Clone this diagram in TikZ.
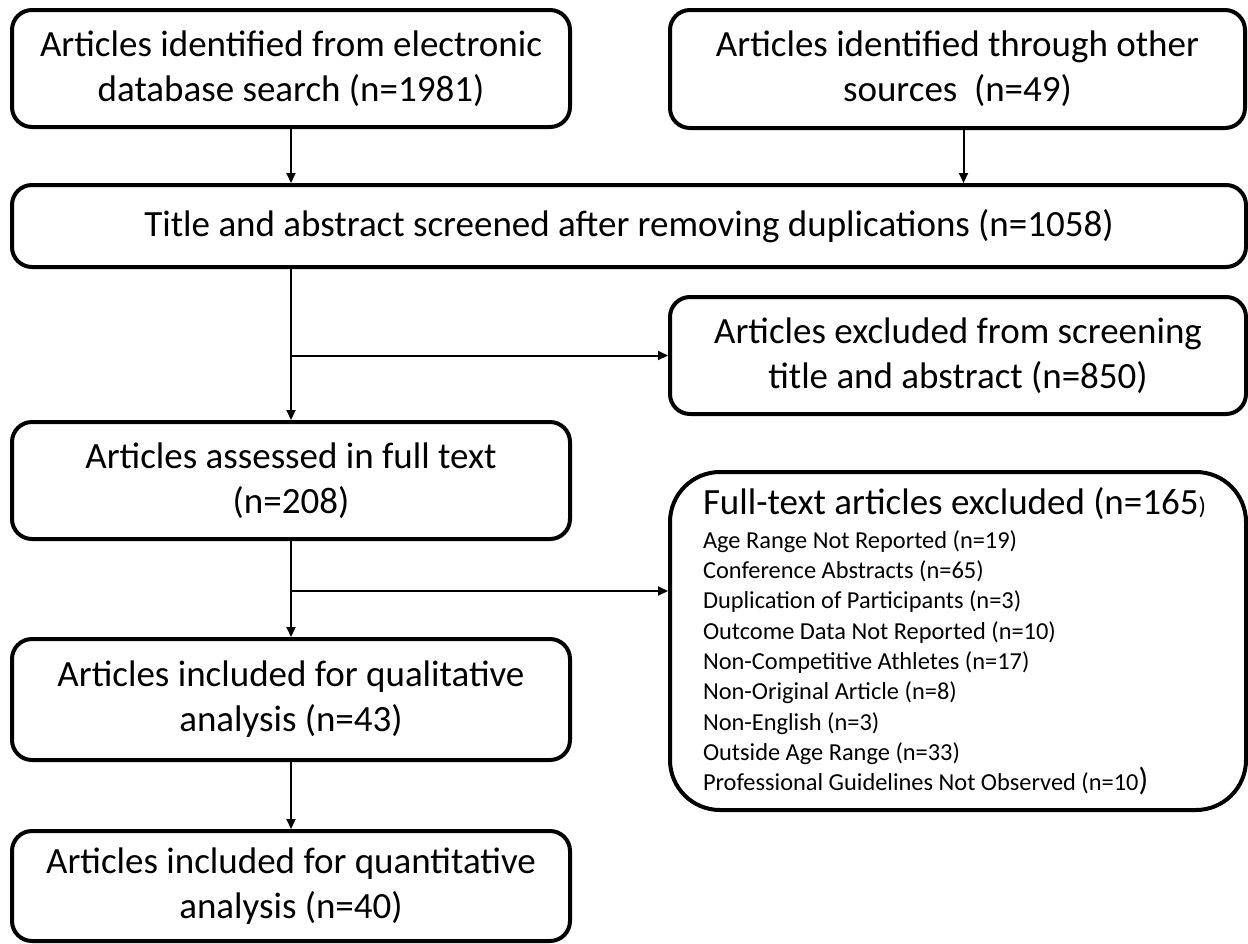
\documentclass[tikz,border=0pt]{standalone}
\usepackage{fontspec}
\setmainfont{Carlito}
\usepackage{tikz}
\usetikzlibrary{arrows.meta,positioning,calc}
\tikzset{
  stagebox/.style={draw=black,line width=2pt,rounded corners=10pt,align=center,
    inner sep=0pt,minimum width=279pt,font=\fontsize{18.5}{22.5}\selectfont},
  exclbox/.style={draw=black,line width=2pt,rounded corners=25pt,align=flush left,
    inner xsep=16.5pt,inner ysep=0pt,text width=255pt,minimum height=169pt,
    font=\fontsize{12.2}{15.15}\selectfont},
  flowarrow/.style={-{Triangle[length=5pt,width=4.5pt]},line width=1pt}
}

\begin{document}
\begin{tikzpicture}[x=0.5pt,y=-0.5pt]
  \fill[white] (0,0) rectangle (1248,943);
  \useasboundingbox (0,0) rectangle (1248,943);
  % identification
  \node[stagebox,minimum height=58.5pt] (dbsearch) at (291,68.5)
    {Articles identified from electronic\\database search (n=1981)};
  \node[stagebox,minimum width=287.5pt,minimum height=59pt] (othersrc) at (957.5,69)
    {Articles identified through other\\sources\ \ (n=49)};
  \node[stagebox,minimum width=617pt,minimum height=41pt] (screened) at (629,226)
    {Title and abstract screened after removing duplications (n=1058)};
  % screening
  \node[stagebox,minimum width=288pt,minimum height=58.5pt] (exclscreen) at (958,355.5)
    {Articles excluded from screening\\title and abstract (n=850)};
  \node[stagebox,minimum height=58.5pt] (fulltext) at (291,480.5)
    {Articles assessed in full text\\(n=208)};
  \node[exclbox] (exclfull) at (958,641)
    {{\fontsize{18.5}{18.5}\selectfont Full-text articles excluded (n=165\fontsize{12.2}{12.2}\selectfont)}\\[1.6pt]
     Age Range Not Reported (n=19)\\
     Conference Abstracts (n=65)\\
     Duplication of Participants (n=3)\\
     Outcome Data Not Reported (n=10)\\
     Non-Competitive Athletes (n=17)\\
     Non-Original Article (n=8)\\
     Non-English (n=3)\\
     Outside Age Range (n=33)\\
     Professional Guidelines Not Observed (n=10\smash{\fontsize{16}{16}\selectfont)}};
  % included
  \node[stagebox,minimum height=60.5pt] (qualit) at (291,699.5)
    {Articles included for qualitative\\analysis (n=43)};
  \node[stagebox,minimum height=55pt] (quantit) at (291,886)
    {Articles included for quantitative\\analysis (n=40)};
  \coordinate (fork2) at (291,591);

  \draw[flowarrow] (dbsearch.south) -- (dbsearch.south |- screened.north);
  \draw[flowarrow] ([xshift=3pt]othersrc.south) -- ([xshift=3pt]othersrc.south |- screened.north);
  \draw[flowarrow] (screened.south -| fulltext.north) -- (fulltext.north);
  \draw[flowarrow] (fulltext.north |- exclscreen.west) -- (exclscreen.west);
  \draw[flowarrow] (fulltext.south) -- (qualit.north);
  \draw[flowarrow] (fork2) -- (fork2 -| exclfull.west);
  \draw[flowarrow] (qualit.south) -- (quantit.north);
\end{tikzpicture}
\end{document}
